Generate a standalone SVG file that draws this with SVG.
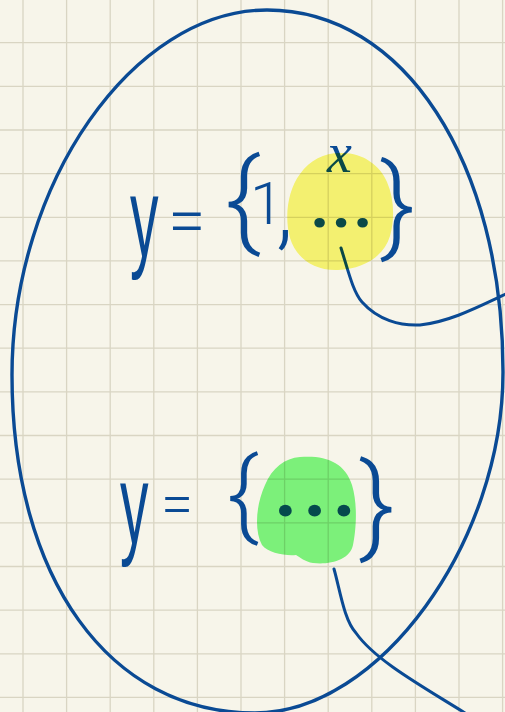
<svg xmlns="http://www.w3.org/2000/svg" width="505" height="712" viewBox="0 0 505 712">
  <style>
    .ink { fill: #0a4a94; font-family: Roboto, "Liberation Sans", sans-serif; font-weight: 300; }
    .yy { fill: #0a4a94; font-family: "Liberation Sans", Arial, sans-serif; font-weight: 400; }
    .pen { fill: none; stroke: #0a4a94; stroke-linecap: round; stroke-linejoin: round; }
    .grid { fill: none; stroke: #d9d5c3; stroke-width: 1.3; }
    .hl { mix-blend-mode: multiply; }
    .var { font-family: "Liberation Serif", serif; font-style: italic; font-weight: 400; }
    .dots { font-family: Roboto, "Liberation Sans", sans-serif; font-weight: 900; }
  </style>
  <rect width="505" height="712" fill="#f7f5ea"/>
  <g id="grid">
    <path class="grid" d="M23,0V712 M66.6,0V712 M110.2,0V712 M153.8,0V712 M197.4,0V712 M241,0V712 M284.6,0V712 M328.2,0V712 M371.8,0V712 M415.4,0V712 M459,0V712 M502.6,0V712
      M0,42.7H505 M0,86.3H505 M0,130H505 M0,173.6H505 M0,217.3H505 M0,260.9H505 M0,304.6H505 M0,348.2H505 M0,391.9H505 M0,435.5H505 M0,479.2H505 M0,522.8H505 M0,566.5H505 M0,610.1H505 M0,653.8H505 M0,697.4H505"/>
  </g>
  <g id="set">
    <path class="pen" stroke-width="3.4" d="M267,10 C403.9,10 503,162 503,372 C503,542.5 379,713 255,713 C109,713 12,578 12,375 C12,183.4 133,10 267,10 Z"/>
  </g>
  <g id="connectors">
    <path class="pen" stroke-width="3" d="M341,248 C348,270 353,292 362,302 C378,320 400,326 420,325 C450,322 480,306 506,294"/>
    <path class="pen" stroke-width="3" d="M334,569 C340,590 344,620 356,633 C375,660 420,685 465,713"/>
  </g>
  <g id="expr-top">
    <text class="yy" font-size="114" transform="translate(130,256) scale(0.5,1)">y</text>
    <text class="ink"><tspan font-size="68" x="168" y="244">=</tspan><tspan font-size="108" x="225" y="236">{</tspan><tspan font-size="60" x="250" y="224">1</tspan><tspan font-size="90" x="276" y="238">,</tspan><tspan class="var" font-size="56" x="327" y="172">x</tspan><tspan class="dots" font-size="58" letter-spacing="4" x="311" y="227">...</tspan><tspan font-size="107" x="380" y="241">}</tspan></text>
    <path class="hl" fill="#fbfa7a" d="M340,153 C362,152 380,165 387,182 C394,198 395,218 390,236 C384,256 364,269 338,270 C314,271 296,258 290,238 C284,216 288,190 300,174 C310,160 324,153 340,153 Z"/>
  </g>
  <g id="expr-bottom">
    <text class="yy" font-size="114" transform="translate(120,543) scale(0.5,1)">y</text>
    <text class="ink"><tspan font-size="58" x="161" y="524">=</tspan><tspan font-size="96" x="227" y="527">{</tspan><tspan class="dots" font-size="70" letter-spacing="8" x="275" y="516">...</tspan><tspan font-size="109" x="359" y="542">}</tspan></text>
    <path class="hl" fill="#80fa85" d="M300,457 C325,455 345,462 352,485 C358,505 356,530 353,545 C350,560 330,565 313,563 C305,562 300,557 296,555 C285,556 268,553 262,545 C254,530 256,505 265,485 C272,468 285,458 300,457 Z"/>
  </g>
</svg>
